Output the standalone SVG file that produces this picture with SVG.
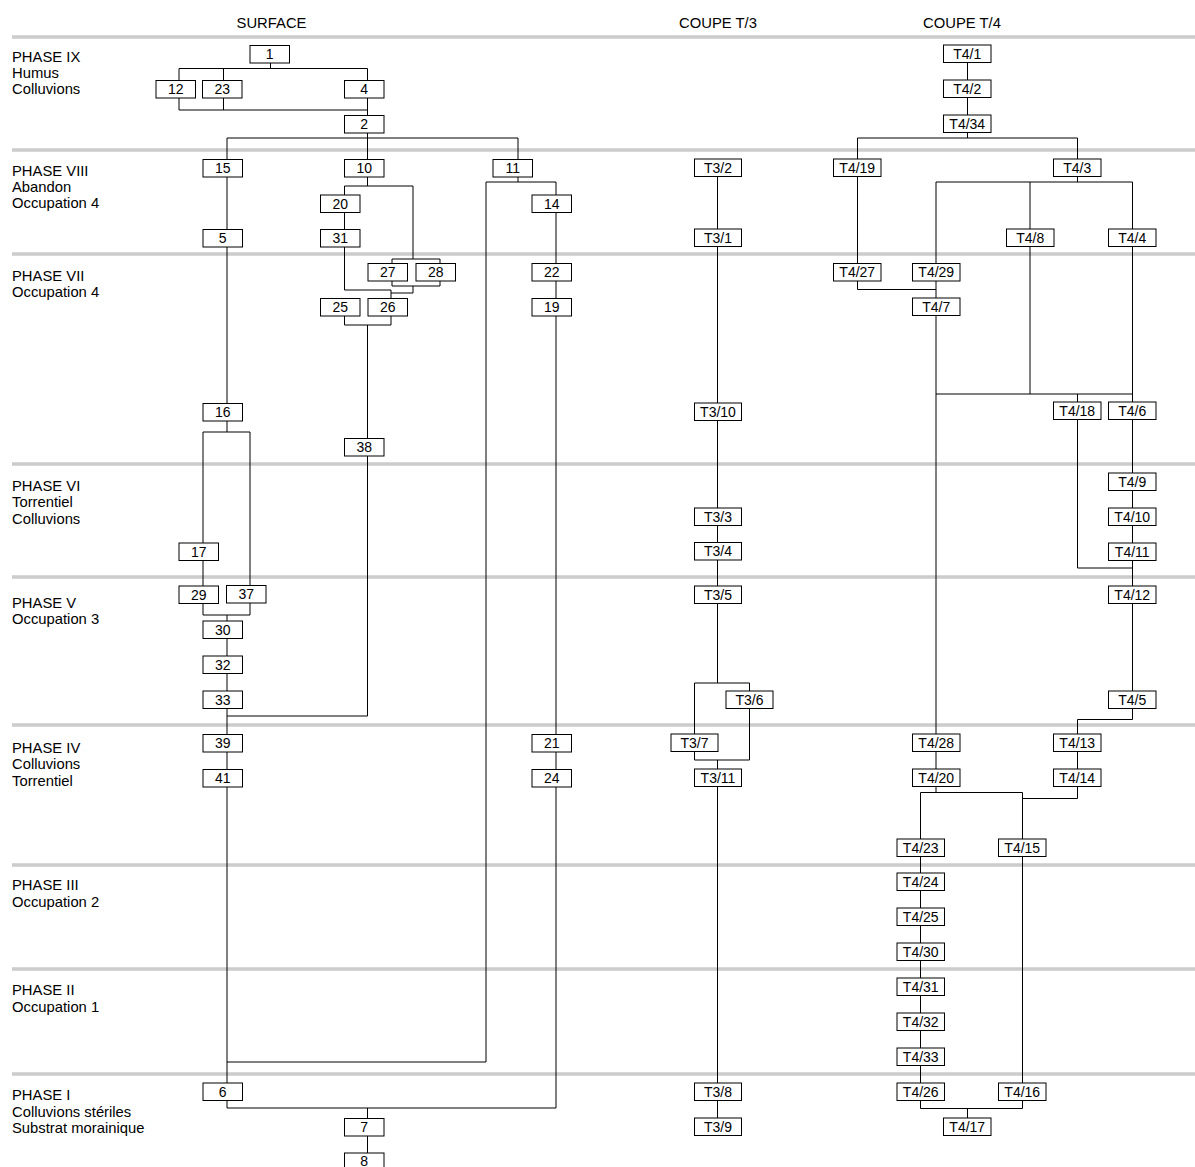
<svg xmlns="http://www.w3.org/2000/svg" width="1195" height="1167" viewBox="0 0 1195 1167">
<style>
.sep{stroke:#cccccc;stroke-width:3.5;fill:none}
.c{stroke:#000;stroke-width:1;fill:none}
.b{fill:#fff;stroke:#000;stroke-width:1}
.t{font-family:"Liberation Sans",Arial,sans-serif;font-size:14px;text-anchor:middle;fill:#000}
.h{font-family:"Liberation Sans",Arial,sans-serif;font-size:14.8px;fill:#000}
.hc{font-family:"Liberation Sans",Arial,sans-serif;font-size:14.8px;fill:#000;text-anchor:middle}
</style>
<rect width="1195" height="1167" fill="#fff"/>
<g id="separators">
<path class="sep" d="M12 37H1195M12 150H1195M12 254H1195M12 464H1195M12 577H1195M12 725H1195M12 865H1195M12 969H1195M12 1074H1195"/>
</g>
<g id="headers">
<text class="hc" x="271.5" y="28">SURFACE</text>
<text class="hc" x="718" y="28">COUPE T/3</text>
<text class="hc" x="962" y="28">COUPE T/4</text>
</g>
<g id="phases">
<text class="h" x="12" y="61.5">PHASE IX</text>
<text class="h" x="12" y="77.5">Humus</text>
<text class="h" x="12" y="94">Colluvions</text>
<text class="h" x="12" y="175.5">PHASE VIII</text>
<text class="h" x="12" y="191.5">Abandon</text>
<text class="h" x="12" y="207.5">Occupation 4</text>
<text class="h" x="12" y="280.5">PHASE VII</text>
<text class="h" x="12" y="297">Occupation 4</text>
<text class="h" x="12" y="490.5">PHASE VI</text>
<text class="h" x="12" y="507">Torrentiel</text>
<text class="h" x="12" y="523.5">Colluvions</text>
<text class="h" x="12" y="607.5">PHASE V</text>
<text class="h" x="12" y="624">Occupation 3</text>
<text class="h" x="12" y="752.5">PHASE IV</text>
<text class="h" x="12" y="769">Colluvions</text>
<text class="h" x="12" y="785.5">Torrentiel</text>
<text class="h" x="12" y="890">PHASE III</text>
<text class="h" x="12" y="907">Occupation 2</text>
<text class="h" x="12" y="994.5">PHASE II</text>
<text class="h" x="12" y="1011.5">Occupation 1</text>
<text class="h" x="12" y="1100">PHASE I</text>
<text class="h" x="12" y="1116.5">Colluvions stériles</text>
<text class="h" x="12" y="1133">Substrat morainique</text>
</g>
<g id="connectors">
<path class="c" d="M270.5 62V68.5M179 68.5H367.5M179 68.5V110M223.5 68.5V110M367.5 68.5V138M179 110H367.5"/>
<path class="c" d="M227 138H518M227 138V432M203 432H250M203 432V615M250 432V615M203 615H250M227 615V1108"/>
<path class="c" d="M367.5 138V186M344.5 186H413M344.5 186V290M413 186V259M392 259H440M392 259V286M440 259V286M392 286H440M413 286V293M391 293H413M344.5 290H391M391 290V298.5M344.5 316V325M391 316V325M344.5 325H391M367.5 325V716M227 716H367.5"/>
<path class="c" d="M518 138V182M486 182H556M486 182V1062M227 1062H486M556 182V1108M227 1108H556M367.5 1108V1153"/>
<path class="c" d="M717.5 176V683M694.5 683H749.5M694.5 683V760M749.5 683V760M694.5 760H749.5M717.5 760V1118"/>
<path class="c" d="M967.5 62V138M857.5 138H1077.5M857.5 138V289.5M857.5 289.5H936M1077.5 138V182M936 182H1132.5M936 182V792.5M1030 182V394M1132.5 182V719.5M936 394H1132.5M1077.5 394V568H1132.5M1132.5 719.5H1077.5V798.5H1022.5M920.5 792.5H1022.5M920.5 792.5V1108.5H1022.5M1022.5 792.5V1108.5M967.5 1108.5V1118"/>
</g>
<g id="n1"><rect class="b" x="250" y="45.5" width="39.5" height="17.5"/><text class="t" x="269.75" y="59">1</text></g>
<g id="n12"><rect class="b" x="156" y="80.5" width="39.5" height="17.5"/><text class="t" x="175.75" y="94">12</text></g>
<g id="n23"><rect class="b" x="202.5" y="80.5" width="39.5" height="17.5"/><text class="t" x="222.25" y="94">23</text></g>
<g id="n4"><rect class="b" x="344.5" y="80.5" width="39.5" height="17.5"/><text class="t" x="364.25" y="94">4</text></g>
<g id="n2"><rect class="b" x="344.5" y="115.5" width="39.5" height="17.5"/><text class="t" x="364.25" y="129">2</text></g>
<g id="n15"><rect class="b" x="203" y="159.5" width="39.5" height="17.5"/><text class="t" x="222.75" y="173">15</text></g>
<g id="n10"><rect class="b" x="344.5" y="159.5" width="39.5" height="17.5"/><text class="t" x="364.25" y="173">10</text></g>
<g id="n11"><rect class="b" x="493" y="159.5" width="39.5" height="17.5"/><text class="t" x="512.75" y="173">11</text></g>
<g id="n20"><rect class="b" x="320.5" y="195" width="39.5" height="17.5"/><text class="t" x="340.25" y="208.5">20</text></g>
<g id="n14"><rect class="b" x="532" y="195" width="39.5" height="17.5"/><text class="t" x="551.75" y="208.5">14</text></g>
<g id="n5"><rect class="b" x="203" y="229.5" width="39.5" height="17.5"/><text class="t" x="222.75" y="243">5</text></g>
<g id="n31"><rect class="b" x="320.5" y="229.5" width="39.5" height="17.5"/><text class="t" x="340.25" y="243">31</text></g>
<g id="n27"><rect class="b" x="368" y="263.5" width="39.5" height="17.5"/><text class="t" x="387.75" y="277">27</text></g>
<g id="n28"><rect class="b" x="416" y="263.5" width="39.5" height="17.5"/><text class="t" x="435.75" y="277">28</text></g>
<g id="n22"><rect class="b" x="532" y="263.5" width="39.5" height="17.5"/><text class="t" x="551.75" y="277">22</text></g>
<g id="n25"><rect class="b" x="320.5" y="298.5" width="39.5" height="17.5"/><text class="t" x="340.25" y="312">25</text></g>
<g id="n26"><rect class="b" x="368" y="298.5" width="39.5" height="17.5"/><text class="t" x="387.75" y="312">26</text></g>
<g id="n19"><rect class="b" x="532" y="298.5" width="39.5" height="17.5"/><text class="t" x="551.75" y="312">19</text></g>
<g id="n16"><rect class="b" x="203" y="403.5" width="39.5" height="17.5"/><text class="t" x="222.75" y="417">16</text></g>
<g id="n38"><rect class="b" x="344.5" y="438.5" width="39.5" height="17.5"/><text class="t" x="364.25" y="452">38</text></g>
<g id="n17"><rect class="b" x="179" y="543" width="39.5" height="17.5"/><text class="t" x="198.75" y="556.5">17</text></g>
<g id="n29"><rect class="b" x="179" y="586" width="39.5" height="17.5"/><text class="t" x="198.75" y="599.5">29</text></g>
<g id="n37"><rect class="b" x="226.5" y="585.5" width="39.5" height="17.5"/><text class="t" x="246.25" y="599">37</text></g>
<g id="n30"><rect class="b" x="203" y="621" width="39.5" height="17.5"/><text class="t" x="222.75" y="634.5">30</text></g>
<g id="n32"><rect class="b" x="203" y="656" width="39.5" height="17.5"/><text class="t" x="222.75" y="669.5">32</text></g>
<g id="n33"><rect class="b" x="203" y="691" width="39.5" height="17.5"/><text class="t" x="222.75" y="704.5">33</text></g>
<g id="n39"><rect class="b" x="203" y="734.5" width="39.5" height="17.5"/><text class="t" x="222.75" y="748">39</text></g>
<g id="n41"><rect class="b" x="203" y="769.5" width="39.5" height="17.5"/><text class="t" x="222.75" y="783">41</text></g>
<g id="n21"><rect class="b" x="532" y="734.5" width="39.5" height="17.5"/><text class="t" x="551.75" y="748">21</text></g>
<g id="n24"><rect class="b" x="532" y="769.5" width="39.5" height="17.5"/><text class="t" x="551.75" y="783">24</text></g>
<g id="n6"><rect class="b" x="203" y="1083" width="39.5" height="17.5"/><text class="t" x="222.75" y="1096.5">6</text></g>
<g id="n7"><rect class="b" x="344.5" y="1118.5" width="39.5" height="17.5"/><text class="t" x="364.25" y="1132">7</text></g>
<g id="n8"><rect class="b" x="344.5" y="1153" width="39.5" height="17.5"/><text class="t" x="364.25" y="1165.5">8</text></g>
<g id="t3-2"><rect class="b" x="694.5" y="159" width="47" height="17.5"/><text class="t" x="718" y="172.5">T3/2</text></g>
<g id="t3-1"><rect class="b" x="694.5" y="229" width="47" height="17.5"/><text class="t" x="718" y="242.5">T3/1</text></g>
<g id="t3-10"><rect class="b" x="694.5" y="403" width="47" height="17.5"/><text class="t" x="718" y="416.5">T3/10</text></g>
<g id="t3-3"><rect class="b" x="694.5" y="508" width="47" height="17.5"/><text class="t" x="718" y="521.5">T3/3</text></g>
<g id="t3-4"><rect class="b" x="694.5" y="542.5" width="47" height="17.5"/><text class="t" x="718" y="556">T3/4</text></g>
<g id="t3-5"><rect class="b" x="694.5" y="586" width="47" height="17.5"/><text class="t" x="718" y="599.5">T3/5</text></g>
<g id="t3-6"><rect class="b" x="726" y="691" width="47" height="17.5"/><text class="t" x="749.5" y="704.5">T3/6</text></g>
<g id="t3-7"><rect class="b" x="671" y="734" width="47" height="17.5"/><text class="t" x="694.5" y="747.5">T3/7</text></g>
<g id="t3-11"><rect class="b" x="694.5" y="769" width="47" height="17.5"/><text class="t" x="718" y="782.5">T3/11</text></g>
<g id="t3-8"><rect class="b" x="694.5" y="1083" width="47" height="17.5"/><text class="t" x="718" y="1096.5">T3/8</text></g>
<g id="t3-9"><rect class="b" x="694.5" y="1118" width="47" height="17.5"/><text class="t" x="718" y="1131.5">T3/9</text></g>
<g id="t4-1"><rect class="b" x="943.5" y="45" width="47.5" height="17.5"/><text class="t" x="967.25" y="58.5">T4/1</text></g>
<g id="t4-2"><rect class="b" x="943.5" y="80" width="47.5" height="17.5"/><text class="t" x="967.25" y="93.5">T4/2</text></g>
<g id="t4-34"><rect class="b" x="943.5" y="115" width="47.5" height="17.5"/><text class="t" x="967.25" y="128.5">T4/34</text></g>
<g id="t4-19"><rect class="b" x="833.5" y="159" width="47.5" height="17.5"/><text class="t" x="857.25" y="172.5">T4/19</text></g>
<g id="t4-3"><rect class="b" x="1053.5" y="159" width="47.5" height="17.5"/><text class="t" x="1077.25" y="172.5">T4/3</text></g>
<g id="t4-8"><rect class="b" x="1006.5" y="229" width="47.5" height="17.5"/><text class="t" x="1030.25" y="242.5">T4/8</text></g>
<g id="t4-4"><rect class="b" x="1108.5" y="229" width="47.5" height="17.5"/><text class="t" x="1132.25" y="242.5">T4/4</text></g>
<g id="t4-27"><rect class="b" x="833.5" y="263.5" width="47.5" height="17.5"/><text class="t" x="857.25" y="277">T4/27</text></g>
<g id="t4-29"><rect class="b" x="912.5" y="263.5" width="47.5" height="17.5"/><text class="t" x="936.25" y="277">T4/29</text></g>
<g id="t4-7"><rect class="b" x="912.5" y="298" width="47.5" height="17.5"/><text class="t" x="936.25" y="311.5">T4/7</text></g>
<g id="t4-18"><rect class="b" x="1053.5" y="402" width="47.5" height="17.5"/><text class="t" x="1077.25" y="415.5">T4/18</text></g>
<g id="t4-6"><rect class="b" x="1108.5" y="402" width="47.5" height="17.5"/><text class="t" x="1132.25" y="415.5">T4/6</text></g>
<g id="t4-9"><rect class="b" x="1108.5" y="473" width="47.5" height="17.5"/><text class="t" x="1132.25" y="486.5">T4/9</text></g>
<g id="t4-10"><rect class="b" x="1108.5" y="508" width="47.5" height="17.5"/><text class="t" x="1132.25" y="521.5">T4/10</text></g>
<g id="t4-11"><rect class="b" x="1108.5" y="543" width="47.5" height="17.5"/><text class="t" x="1132.25" y="556.5">T4/11</text></g>
<g id="t4-12"><rect class="b" x="1108.5" y="586" width="47.5" height="17.5"/><text class="t" x="1132.25" y="599.5">T4/12</text></g>
<g id="t4-5"><rect class="b" x="1108.5" y="691" width="47.5" height="17.5"/><text class="t" x="1132.25" y="704.5">T4/5</text></g>
<g id="t4-28"><rect class="b" x="912.5" y="734" width="47.5" height="17.5"/><text class="t" x="936.25" y="747.5">T4/28</text></g>
<g id="t4-13"><rect class="b" x="1053.5" y="734" width="47.5" height="17.5"/><text class="t" x="1077.25" y="747.5">T4/13</text></g>
<g id="t4-20"><rect class="b" x="912.5" y="769" width="47.5" height="17.5"/><text class="t" x="936.25" y="782.5">T4/20</text></g>
<g id="t4-14"><rect class="b" x="1053.5" y="769" width="47.5" height="17.5"/><text class="t" x="1077.25" y="782.5">T4/14</text></g>
<g id="t4-23"><rect class="b" x="897" y="839" width="47.5" height="17.5"/><text class="t" x="920.75" y="852.5">T4/23</text></g>
<g id="t4-15"><rect class="b" x="998.5" y="839" width="47.5" height="17.5"/><text class="t" x="1022.25" y="852.5">T4/15</text></g>
<g id="t4-24"><rect class="b" x="897" y="873" width="47.5" height="17.5"/><text class="t" x="920.75" y="886.5">T4/24</text></g>
<g id="t4-25"><rect class="b" x="897" y="908" width="47.5" height="17.5"/><text class="t" x="920.75" y="921.5">T4/25</text></g>
<g id="t4-30"><rect class="b" x="897" y="943" width="47.5" height="17.5"/><text class="t" x="920.75" y="956.5">T4/30</text></g>
<g id="t4-31"><rect class="b" x="897" y="978" width="47.5" height="17.5"/><text class="t" x="920.75" y="991.5">T4/31</text></g>
<g id="t4-32"><rect class="b" x="897" y="1013" width="47.5" height="17.5"/><text class="t" x="920.75" y="1026.5">T4/32</text></g>
<g id="t4-33"><rect class="b" x="897" y="1048" width="47.5" height="17.5"/><text class="t" x="920.75" y="1061.5">T4/33</text></g>
<g id="t4-26"><rect class="b" x="897" y="1083" width="47.5" height="17.5"/><text class="t" x="920.75" y="1096.5">T4/26</text></g>
<g id="t4-16"><rect class="b" x="998.5" y="1083" width="47.5" height="17.5"/><text class="t" x="1022.25" y="1096.5">T4/16</text></g>
<g id="t4-17"><rect class="b" x="943.5" y="1118" width="47.5" height="17.5"/><text class="t" x="967.25" y="1131.5">T4/17</text></g>
</svg>
